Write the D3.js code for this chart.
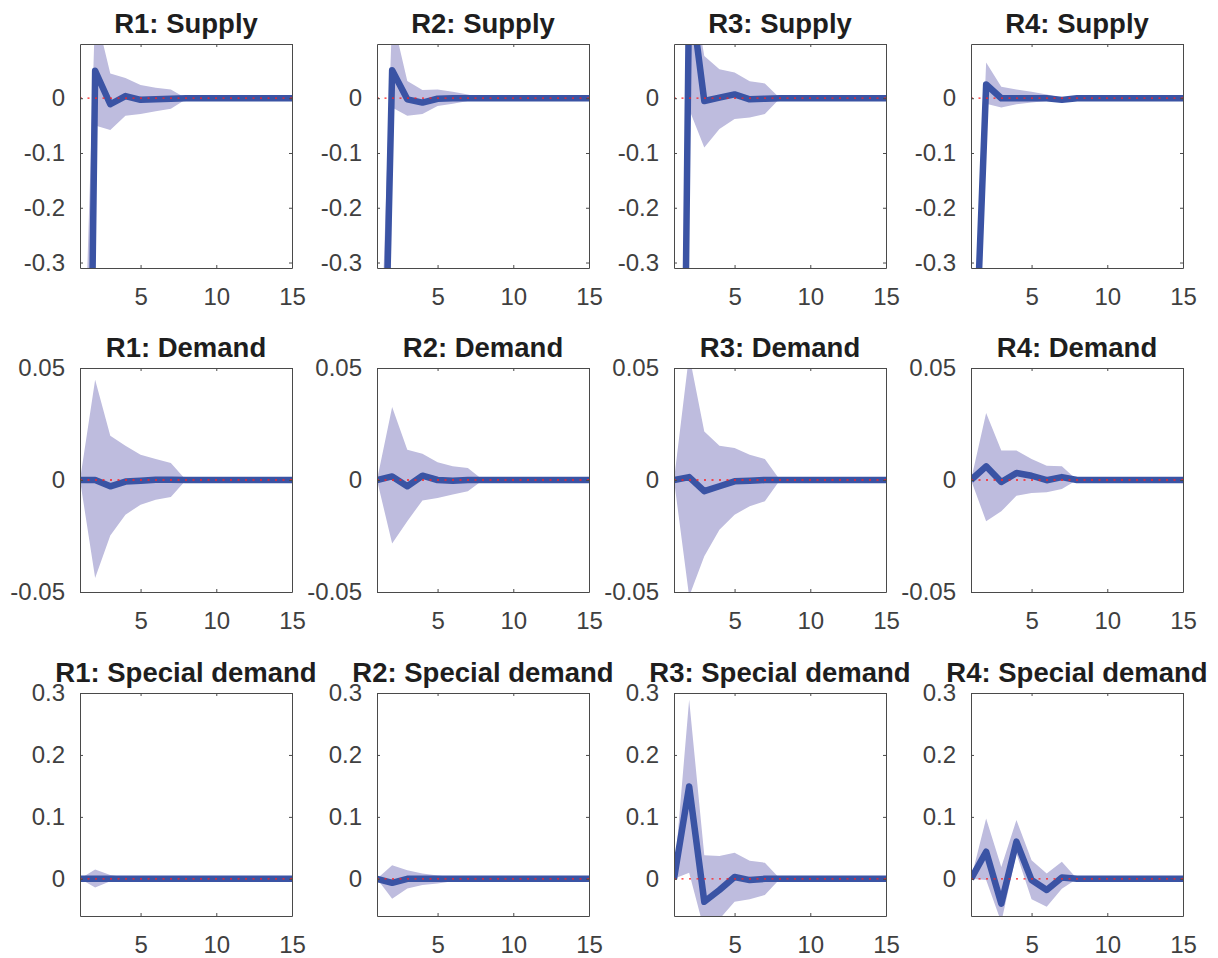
<!DOCTYPE html>
<html>
<head>
<meta charset="utf-8">
<script src="https://cdn.jsdelivr.net/npm/d3@7"></script>
<style>
  body { margin: 0; background: #fff; }
  text { font-family: "Liberation Sans", Arial, sans-serif; }
</style>
</head>
<body>
<div id="chart"></div>
<script>
const periods = [1, 2, 3, 4, 5, 6, 7, 8, 9, 10, 11, 12, 13, 14, 15];
const regions = ["R1", "R2", "R3", "R4"];
const shocks = ["Supply", "Demand", "Special demand"];
const xTicks = [5, 10, 15];

const supplyTicks = [-0.3, -0.2, -0.1, 0];
const demandTicks = [-0.05, 0, 0.05];
const specialTicks = [0, 0.1, 0.2, 0.3];
const supplyLimits = [-0.31, 0.099];
const demandLimits = [-0.05, 0.05];
const specialLimits = [-0.06, 0.3];

// median response, one row per region
const supplyMid = [
  [-2.1, 0.05, -0.011, 0.004, -0.003, -0.002, -0.001, 0, 0, 0, 0, 0, 0, 0, 0],
  [-1.15, 0.051, -0.002, -0.008, -0.001, 0, 0, 0, 0, 0, 0, 0, 0, 0, 0],
  [-2.3, 0.21, -0.005, 0.001, 0.007, -0.002, -0.001, 0, 0, 0, 0, 0, 0, 0, 0],
  [-0.7, 0.025, 0, 0, 0, 0, -0.003, 0, 0, 0, 0, 0, 0, 0, 0]
];
const supplyLow = [
  [-4.0, -0.05, -0.058, -0.032, -0.029, -0.024, -0.019, -0.002, 0, 0, 0, 0, 0, 0, 0],
  [-4.0, -0.017, -0.032, -0.029, -0.014, -0.01, -0.005, 0, 0, 0, 0, 0, 0, 0, 0],
  [-2.6, -0.02, -0.09, -0.056, -0.038, -0.035, -0.029, 0, 0, 0, 0, 0, 0, 0, 0],
  [-0.8, -0.01, -0.017, -0.011, -0.008, -0.005, -0.004, 0, 0, 0, 0, 0, 0, 0, 0]
];
const supplyHigh = [
  [-0.75, 0.16, 0.045, 0.037, 0.024, 0.019, 0.016, 0, 0, 0, 0, 0, 0, 0, 0],
  [-0.67, 0.15, 0.0315, 0.015, 0.016, 0.012, 0.007, 0, 0, 0, 0, 0, 0, 0, 0],
  [-2.0, 0.24, 0.077, 0.053, 0.047, 0.031, 0.027, 0, 0, 0, 0, 0, 0, 0, 0],
  [-0.6, 0.065, 0.021, 0.016, 0.012, 0.007, 0.001, 0, 0, 0, 0, 0, 0, 0, 0]
];

const demandMid = [
  [0, 0, -0.0028, -0.0007, -0.0003, 0.0001, 0.0001, 0, 0, 0, 0, 0, 0, 0, 0],
  [0, 0.0016, -0.0028, 0.0019, 0, -0.0003, 0, 0, 0, 0, 0, 0, 0, 0, 0],
  [0, 0.0013, -0.005, -0.0028, -0.0006, -0.0003, 0, 0, 0, 0, 0, 0, 0, 0, 0],
  [0, 0.0061, -0.0009, 0.0031, 0.0019, -0.0001, 0.0013, 0, 0, 0, 0, 0, 0, 0, 0]
];
const demandLow = [
  [0, -0.0437, -0.0248, -0.0155, -0.011, -0.0088, -0.0076, 0, 0, 0, 0, 0, 0, 0, 0],
  [0, -0.0284, -0.0184, -0.0091, -0.008, -0.0065, -0.005, 0, 0, 0, 0, 0, 0, 0, 0],
  [0, -0.052, -0.034, -0.0222, -0.0155, -0.0117, -0.0095, 0, 0, 0, 0, 0, 0, 0, 0],
  [0, -0.0184, -0.014, -0.007, -0.0058, -0.0055, -0.004, 0, 0, 0, 0, 0, 0, 0, 0]
];
const demandHigh = [
  [0, 0.0448, 0.0198, 0.0153, 0.0113, 0.0094, 0.0076, 0, 0, 0, 0, 0, 0, 0, 0],
  [0, 0.0326, 0.0135, 0.0117, 0.0079, 0.0061, 0.0054, 0, 0, 0, 0, 0, 0, 0, 0],
  [0, 0.056, 0.0217, 0.0153, 0.0143, 0.0113, 0.0094, 0, 0, 0, 0, 0, 0, 0, 0],
  [0, 0.0299, 0.0132, 0.0132, 0.0094, 0.0064, 0.0061, 0, 0, 0, 0, 0, 0, 0, 0]
];

const specialMid = [
  [0, 0, 0, 0, 0, 0, 0, 0, 0, 0, 0, 0, 0, 0, 0],
  [0, -0.0065, 0, 0, 0, 0, 0, 0, 0, 0, 0, 0, 0, 0, 0],
  [0, 0.149, -0.037, -0.018, 0.003, -0.002, 0, 0, 0, 0, 0, 0, 0, 0, 0],
  [0, 0.0437, -0.04, 0.06, -0.002, -0.018, 0.002, 0, 0, 0, 0, 0, 0, 0, 0]
];
const specialLow = [
  [0, -0.014, -0.004, -0.001, 0, 0, 0, 0, 0, 0, 0, 0, 0, 0, 0],
  [0, -0.032, -0.0156, -0.01, -0.0075, -0.004, -0.002, 0, 0, 0, 0, 0, 0, 0, 0],
  [0, 0.01, -0.083, -0.065, -0.037, -0.033, -0.026, 0, 0, 0, 0, 0, 0, 0, 0],
  [0, -0.002, -0.07, 0.041, -0.033, -0.045, -0.016, 0, 0, 0, 0, 0, 0, 0, 0]
];
const specialHigh = [
  [0, 0.015, 0.006, 0.002, 0, 0, 0, 0, 0, 0, 0, 0, 0, 0, 0],
  [0, 0.022, 0.014, 0.0086, 0.0054, 0.003, 0.001, 0, 0, 0, 0, 0, 0, 0, 0],
  [0, 0.289, 0.038, 0.0367, 0.042, 0.029, 0.026, 0, 0, 0, 0, 0, 0, 0, 0],
  [0, 0.0976, 0.019, 0.095, 0.03, 0.0086, 0.0275, 0, 0, 0, 0, 0, 0, 0, 0]
];

const rows = [
  { mid: supplyMid, low: supplyLow, high: supplyHigh, ticks: supplyTicks, limits: supplyLimits },
  { mid: demandMid, low: demandLow, high: demandHigh, ticks: demandTicks, limits: demandLimits },
  { mid: specialMid, low: specialLow, high: specialHigh, ticks: specialTicks, limits: specialLimits }
];

const width = 1218, height = 958;
const colLeft = [80, 377, 674, 971];
const rowTop = [44, 368, 693];
const rowHeight = [224, 224, 223];
const panelW = 212;

const lineColor = "#3a53a4";
const bandColor = "#bebcde";
const axisColor = "#4a4a4a";

const svg = d3.select("#chart").append("svg")
  .attr("width", width)
  .attr("height", height);

rows.forEach((row, ri) => {
  regions.forEach((reg, ci) => {
    const h = rowHeight[ri];
    const g = svg.append("g")
      .attr("transform", `translate(${colLeft[ci]}, ${rowTop[ri]})`);

    const x = d3.scaleLinear().domain([1, 15]).range([0, panelW]);
    const y = d3.scaleLinear().domain(row.limits).range([h, 0]);

    const clipId = `clip-${ri}-${ci}`;
    g.append("clipPath").attr("id", clipId)
      .append("rect").attr("width", panelW).attr("height", h);

    const plot = g.append("g").attr("clip-path", `url(#${clipId})`);

    const pts = periods.map((p, i) => ({
      p: p, mid: row.mid[ci][i], low: row.low[ci][i], high: row.high[ci][i]
    }));

    plot.append("path")
      .datum(pts)
      .attr("fill", bandColor)
      .attr("d", d3.area().x(d => x(d.p)).y0(d => y(d.low)).y1(d => y(d.high)));

    plot.append("path")
      .datum(pts)
      .attr("fill", "none")
      .attr("stroke", lineColor)
      .attr("stroke-width", 6.5)
      .attr("stroke-linejoin", "round")
      .attr("d", d3.line().x(d => x(d.p)).y(d => y(d.mid)));

    plot.append("line")
      .attr("x1", x(1)).attr("x2", x(15))
      .attr("y1", y(0)).attr("y2", y(0))
      .attr("stroke", "#ff2020")
      .attr("stroke-width", 1.3)
      .attr("stroke-dasharray", "2,5.5");

    // axes, ticks pointing inwards on all four sides
    const bottom = g.append("g").attr("transform", `translate(0, ${h})`)
      .call(d3.axisBottom(x).tickValues(xTicks).tickSizeInner(-3).tickSizeOuter(0)
        .tickPadding(20).tickFormat(d => String(d)));
    const left = g.append("g")
      .call(d3.axisLeft(y).tickValues(row.ticks).tickSizeInner(-3).tickSizeOuter(0)
        .tickPadding(15).tickFormat(d => String(d)));
    const top = g.append("g")
      .call(d3.axisTop(x).tickValues(xTicks).tickSizeInner(-3).tickSizeOuter(0).tickFormat(""));
    const right = g.append("g").attr("transform", `translate(${panelW}, 0)`)
      .call(d3.axisRight(y).tickValues(row.ticks).tickSizeInner(-3).tickSizeOuter(0).tickFormat(""));

    [bottom, left, top, right].forEach(a => {
      a.selectAll("path, line").attr("stroke", axisColor);
      a.selectAll("text")
        .attr("fill", "#404040")
        .style("font-size", "24px")
        .style("font-family", "'Liberation Sans', Arial, sans-serif");
    });

    g.append("text")
      .attr("x", panelW / 2)
      .attr("y", -11)
      .attr("text-anchor", "middle")
      .attr("fill", "#1e1e1e")
      .style("font-size", "27.5px")
      .style("font-weight", "bold")
      .text(`${reg}: ${shocks[ri]}`);
  });
});
</script>
</body>
</html>
